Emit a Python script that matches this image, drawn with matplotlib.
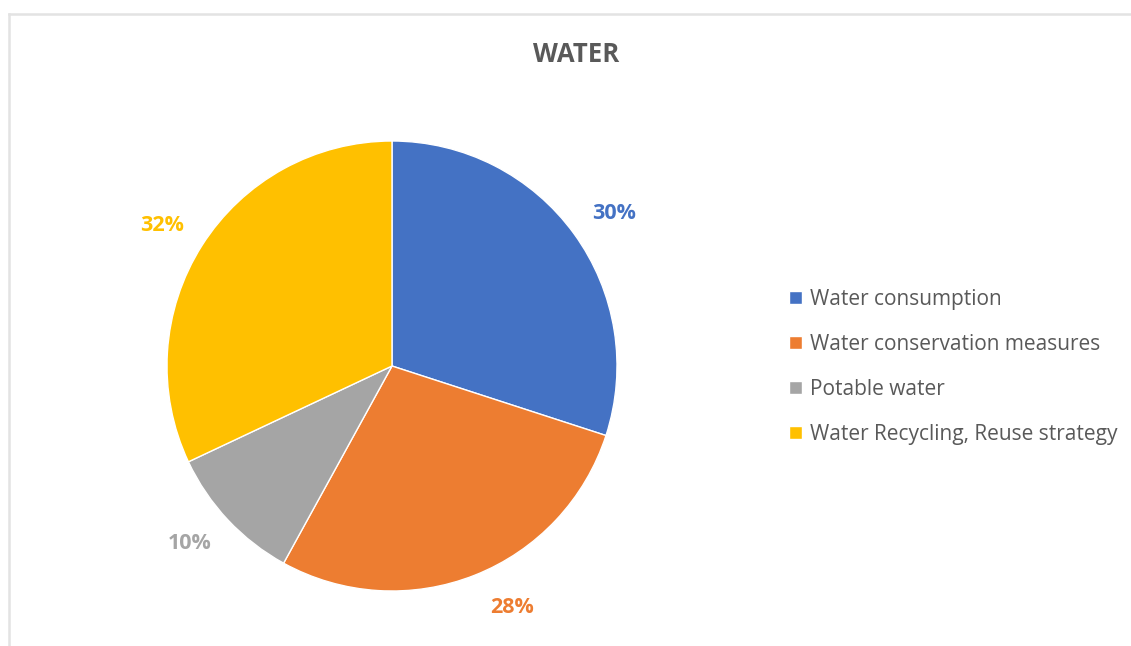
import numpy as np
import matplotlib.pyplot as plt
from matplotlib.lines import Line2D

labels = ["Water consumption", "Water conservation measures", "Potable water",
          "Water Recycling, Reuse strategy"]
values = [30, 28, 10, 32]
colors = ["#4472C4", "#ED7D31", "#A5A5A5", "#FFC000"]
# small angle nudges (degrees) for the outside labels, like Excel's best fit
label_nudge = [-1.5, 5, -2, 1]

plt.rcParams['font.family'] = ['Open Sans', 'DejaVu Sans']

fig = plt.figure(figsize=(11.31, 6.46), dpi=100)

# light frame (left and top only visible)
fig.add_artist(Line2D([9/1131, 9/1131], [0, 1 - 14/646], color="#e3e3e3", lw=1.8))
fig.add_artist(Line2D([9/1131, 1], [1 - 14/646, 1 - 14/646], color="#e3e3e3", lw=1.8))

ax = fig.add_axes([167/1131, 55/646, 450/1131, 450/646])
wedges, texts = ax.pie(values, colors=colors, startangle=90, counterclock=False,
                       wedgeprops=dict(edgecolor="white", linewidth=1))
for w, v, c, nd in zip(wedges, values, colors, label_nudge):
    ang = np.deg2rad((w.theta1 + w.theta2) / 2 + nd)
    ax.text(1.195 * np.cos(ang), 1.2 * np.sin(ang), f"{v}%", ha="center", va="center",
            fontsize=15.5, fontweight="bold", color=c)
ax.set_xlim(-1, 1)
ax.set_ylim(-1, 1)
ax.set_aspect("equal")

fig.text(576/1131, 1 - 54/646, "WATER", ha="center", va="center", fontsize=18.5,
         fontweight="bold", color="#595959")

leg = fig.legend(wedges, labels, loc="center left", bbox_to_anchor=(770/1131, 1 - 367/646),
                 frameon=False, fontsize=15, handlelength=0.62, handleheight=0.62,
                 handletextpad=0.4, labelspacing=1.15, labelcolor="#595959")

fig.savefig("out.png", dpi=100)
